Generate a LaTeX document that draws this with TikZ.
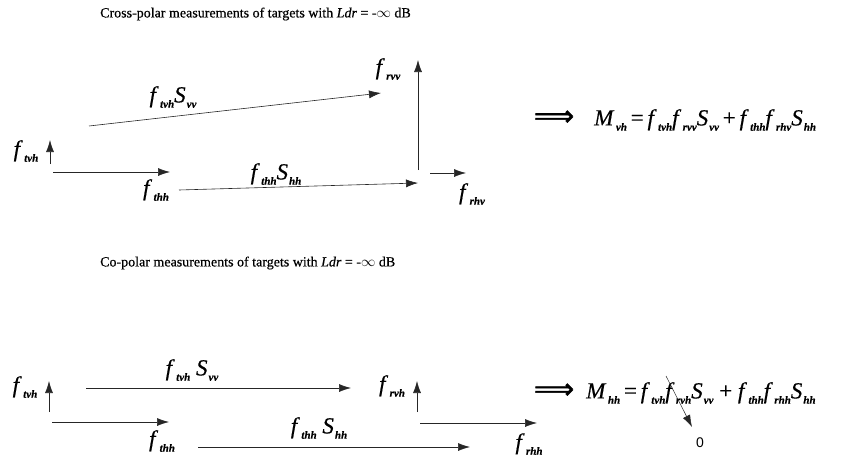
\documentclass[tikz,border=0pt]{standalone}
\usepackage{fontspec}
\setmainfont{Liberation Serif}
\newfontfamily\heavy[FakeBold=0.5]{Liberation Serif}
\newfontfamily\zerofont{Liberation Sans}
\newfontfamily\symfont[FakeBold=2]{DejaVu Sans}
\usetikzlibrary{arrows.meta}

\newcommand\sbx[1]{\raisebox{-0.5ex}{\fontsize{11}{11}\selectfont\bfseries\itshape #1}}
\newcommand\fx[1]{\textit{f}\kern1.5pt\sbx{#1}}
\newcommand\Sx[1]{\textit{S}\kern1pt\sbx{#1}}
\newcommand\Mx[1]{\textit{M}\kern1.5pt\sbx{#1}}

\tikzset{
  arr/.style={-{Latex[length=12pt,width=8pt]}, line width=0.6pt, black!85},
  lbl/.style={inner sep=0pt, font=\heavy\fontsize{23}{23}\selectfont},
  ttl/.style={inner sep=0pt, anchor=west, font=\heavy\fontsize{14}{15}\selectfont},
  eqn/.style={inner sep=0pt, anchor=west, font=\heavy\fontsize{23}{23}\selectfont},
  imp/.style={inner sep=0pt, font=\symfont\fontsize{28}{28}\selectfont},
}

\begin{document}
\begin{tikzpicture}[x=1pt,y=-1pt]
  \useasboundingbox (0,0) rectangle (858,461);

  % cross-polar
  \node[ttl] (t1) at (100,14) {Cross-polar measurements of targets with \textit{Ldr} = -$\infty$ dB};
  \node[lbl] (ftvh) at (26,151) {\fx{tvh}};
  \coordinate (u1) at (50,164);
  \coordinate (u2) at (50,140);
  \draw[arr] (u1) -- (u2);
  \coordinate (h1) at (53,172);
  \coordinate (h2) at (170,172);
  \draw[arr] (h1) -- (h2);
  \node[lbl] (fthh) at (156,190) {\fx{thh}};
  \coordinate (p1) at (89,126);
  \coordinate (p2) at (381,93);
  \draw[arr] (p1) -- (p2);
  \node[lbl] (ls1) at (173,97) {\fx{tvh}\Sx{vv}};
  \coordinate (q1) at (179,190);
  \coordinate (q2) at (418,183);
  \draw[arr] (q1) -- (q2);
  \node[lbl] (ls2) at (276,174) {\fx{thh}\Sx{hh}};
  \coordinate (v1) at (418,170);
  \coordinate (v2) at (418,60);
  \draw[arr] (v1) -- (v2);
  \node[lbl] (frvv) at (388,69) {\fx{rvv}};
  \coordinate (r1) at (430,173);
  \coordinate (r2) at (466,173);
  \draw[arr] (r1) -- (r2);
  \node[lbl] (frhv) at (472,194) {\fx{rhv}};
  \node[imp] (im1) at (554,118) {⟹};
  \node[eqn] (eq1) at (594,120) {\Mx{vh}\,=\,\fx{tvh}\fx{rvv}\Sx{vv}\,+\,\fx{thh}\fx{rhv}\Sx{hh}};

  % co-polar
  \node[ttl] (t2) at (100,263) {Co-polar measurements of targets with \textit{Ldr} = -$\infty$ dB};
  \node[lbl] (btvh) at (25,387) {\fx{tvh}};
  \coordinate (bu1) at (49,412);
  \coordinate (bu2) at (49,381);
  \draw[arr] (bu1) -- (bu2);
  \coordinate (bh1) at (52,422);
  \coordinate (bh2) at (169,422);
  \draw[arr] (bh1) -- (bh2);
  \node[lbl] (bthh) at (162,441) {\fx{thh}};
  \coordinate (bp1) at (86,388);
  \coordinate (bp2) at (351,388);
  \draw[arr] (bp1) -- (bp2);
  \node[lbl] (bs1) at (192,370) {\fx{tvh} \Sx{vv}};
  \coordinate (bq1) at (198,447);
  \coordinate (bq2) at (470,447);
  \draw[arr] (bq1) -- (bq2);
  \node[lbl] (bs2) at (319,428) {\fx{thh} \Sx{hh}};
  \node[lbl] (brvh) at (392,386) {\fx{rvh}};
  \coordinate (bv1) at (417,412);
  \coordinate (bv2) at (417,381);
  \draw[arr] (bv1) -- (bv2);
  \coordinate (br1) at (420,423);
  \coordinate (br2) at (537,423);
  \draw[arr] (br1) -- (br2);
  \node[lbl] (brhh) at (529,444) {\fx{rhh}};
  \node[imp] (im2) at (554,391) {⟹};
  \node[eqn] (eq2) at (586,393) {\Mx{hh}\,=\,\fx{tvh}\fx{rvh}\Sx{vv} + \fx{thh}\fx{rhh}\Sx{hh}};
  \node[inner sep=0pt, font=\zerofont\fontsize{14}{14}\selectfont] (zero) at (700,443) {0};
  \coordinate (s1) at (666,376);
  \coordinate (s2) at (692,427);
  \draw[arr, line width=0.5pt] (s1) -- (s2);
\end{tikzpicture}
\end{document}
